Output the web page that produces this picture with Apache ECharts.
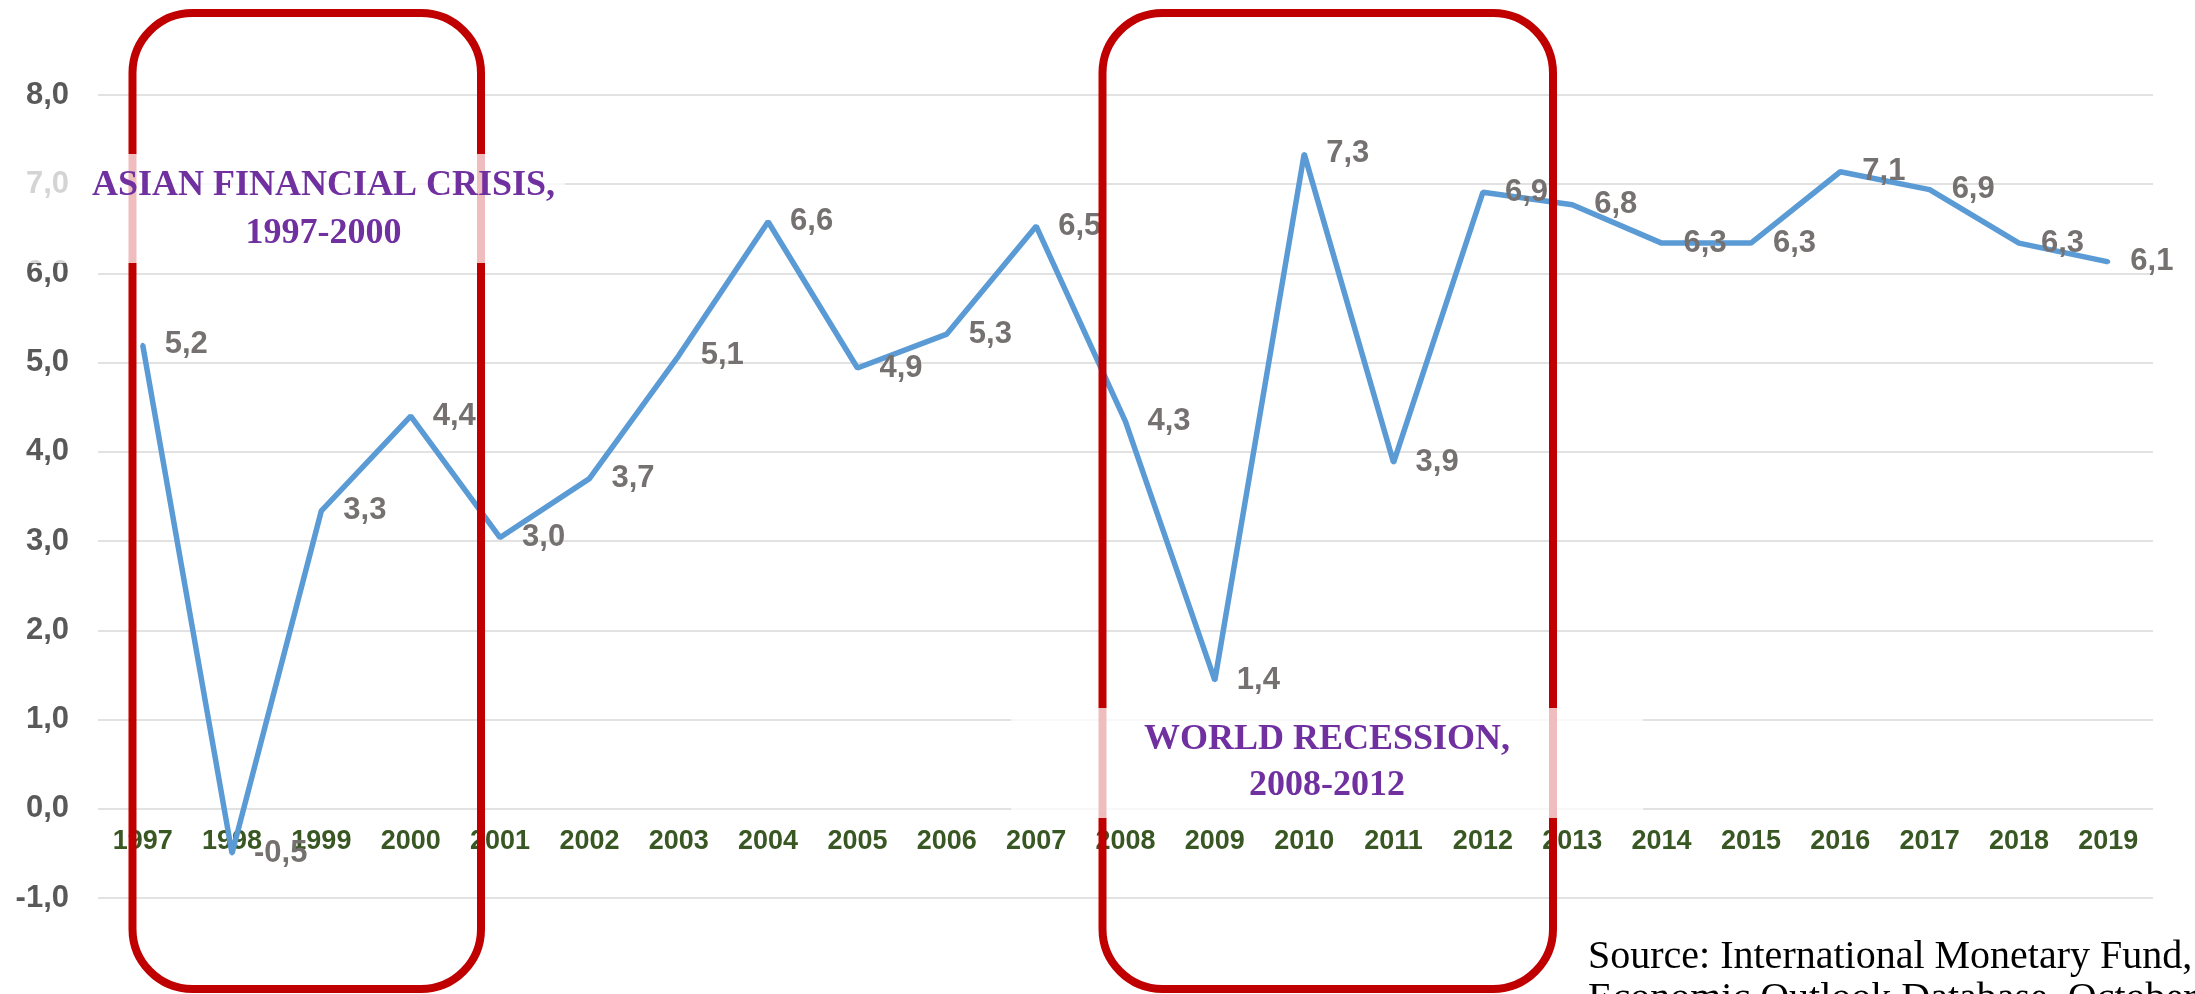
<!DOCTYPE html>
<html>
<head>
<meta charset="utf-8">
<script src="https://cdn.jsdelivr.net/npm/echarts@6/dist/echarts.min.js"></script>
<style>
html,body{margin:0;padding:0;background:#fff;}
#chart{width:2195px;height:994px;}
</style>
</head>
<body>
<div id="chart"></div>
<script>
const years = ['1997','1998','1999','2000','2001','2002','2003','2004','2005','2006','2007','2008','2009','2010','2011','2012','2013','2014','2015','2016','2017','2018','2019'];
const growth = [5.2, -0.5, 3.34, 4.4, 3.04, 3.7, 5.08, 6.58, 4.94, 5.32, 6.53, 4.34, 1.44, 7.34, 3.88, 6.91, 6.77, 6.34, 6.34, 7.14, 6.94, 6.34, 6.13];
const yTicks = { min: -1, max: 8, step: 1 };
const crisisTitle = ['ASIAN FINANCIAL CRISIS,', '1997-2000'];
const recessionTitle = ['WORLD RECESSION,', '2008-2012'];
const sourceLines = ['Source: International Monetary Fund, World', 'Economic Outlook Database, October 2019'];

const fmt = v => Number(v).toFixed(1).replace('.', ',');
const chart = echarts.init(document.getElementById('chart'), null, { renderer: 'canvas' });

const RED = '#C00000';
const PURPLE = '#7030A0';
const VEIL = 'rgba(255,255,255,0.74)';
const serif = '"Liberation Serif", "DejaVu Serif", serif';
const sans = '"Liberation Sans", Arial, sans-serif';

chart.setOption({
  animation: false,
  backgroundColor: '#ffffff',
  grid: { left: 98, right: 42, top: 95, bottom: 96, containLabel: false, outerBoundsMode: 'none' },
  xAxis: {
    type: 'category',
    data: years,
    boundaryGap: true,
    position: 'bottom',
    offset: 0,
    axisLine: { show: false, onZero: false },
    axisTick: { show: false },
    axisLabel: { color: '#385723', fontSize: 27, fontWeight: 'bold', fontFamily: sans, margin: 19, interval: 0 }
  },
  yAxis: {
    type: 'value',
    min: yTicks.min, max: yTicks.max, interval: yTicks.step,
    axisLine: { show: false },
    axisTick: { show: false },
    splitLine: { show: true, lineStyle: { color: '#D9D9D9', width: 1.6 } },
    axisLabel: { color: '#595959', fontSize: 31, fontWeight: 'bold', fontFamily: sans, margin: 29, formatter: v => fmt(v) }
  },
  series: [{
    type: 'line',
    data: growth,
    showAllSymbol: true,
    symbol: 'circle',
    symbolSize: 4,
    itemStyle: { color: '#5B9BD5' },
    lineStyle: { color: '#5B9BD5', width: 5.5 },
    label: {
      show: true, position: 'right', distance: 20,
      color: '#767171', fontSize: 31, fontWeight: 'bold', fontFamily: sans,
      formatter: p => fmt(p.value)
    },
    z: 2
  }],
  graphic: [
    { type: 'rect', z: 100, shape: { x: 132.5, y: 13, width: 348.5, height: 976, r: 60 }, style: { fill: 'none', stroke: RED, lineWidth: 8 } },
    { type: 'rect', z: 100, shape: { x: 1102.5, y: 13, width: 450.5, height: 976, r: 60 }, style: { fill: 'none', stroke: RED, lineWidth: 8 } },
    { type: 'rect', z: 110, shape: { x: 20, y: 154, width: 545, height: 109 }, style: { fill: VEIL } },
    { type: 'rect', z: 110, shape: { x: 1011, y: 708, width: 632, height: 110 }, style: { fill: VEIL } },
    { type: 'text', z: 120, x: 323.5, y: 186, style: { text: crisisTitle[0], fill: PURPLE, font: 'bold 36px ' + serif, align: 'center', verticalAlign: 'middle' } },
    { type: 'text', z: 120, x: 323.5, y: 234, style: { text: crisisTitle[1], fill: PURPLE, font: 'bold 36px ' + serif, align: 'center', verticalAlign: 'middle' } },
    { type: 'text', z: 120, x: 1327, y: 740, style: { text: recessionTitle[0], fill: PURPLE, font: 'bold 36px ' + serif, align: 'center', verticalAlign: 'middle' } },
    { type: 'text', z: 120, x: 1327, y: 786, style: { text: recessionTitle[1], fill: PURPLE, font: 'bold 36px ' + serif, align: 'center', verticalAlign: 'middle' } },
    { type: 'text', z: 120, x: 1588, y: 957, style: { text: sourceLines[0], fill: '#000000', font: '40px ' + serif, align: 'left', verticalAlign: 'middle' } },
    { type: 'text', z: 120, x: 1588, y: 999, style: { text: sourceLines[1], fill: '#000000', font: '40px ' + serif, align: 'left', verticalAlign: 'middle' } }
  ]
});

// Move the category labels up so they sit just below the zero line, as in the original.
const zeroY = chart.convertToPixel({ yAxisIndex: 0 }, 0);
const minY = chart.convertToPixel({ yAxisIndex: 0 }, yTicks.min);
chart.setOption({ xAxis: { offset: zeroY - minY } });
</script>
</body>
</html>
